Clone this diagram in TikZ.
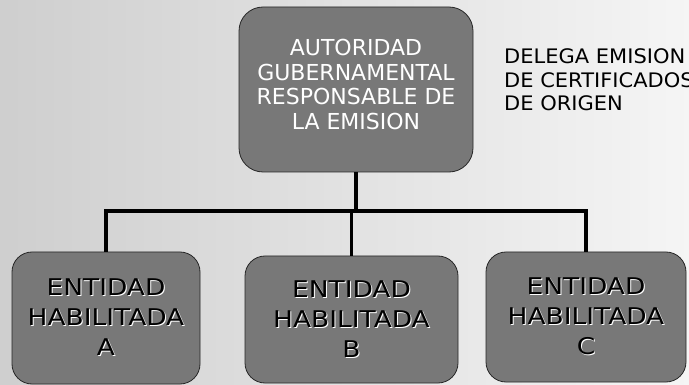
\documentclass[tikz,border=0pt]{standalone}
\usepackage{fontspec}
\setmainfont{DejaVu Sans}
\newfontfamily\anchafont[FakeStretch=1.15]{DejaVu Sans}
\newfontfamily\mediafont[FakeStretch=1.05]{DejaVu Sans}
\begin{document}
\begin{tikzpicture}[x=1pt,y=-1pt,
	caja/.style={draw=black!85,line width=0.8pt,fill=black!53,rounded corners=20pt,inner sep=0pt},
	textoent/.style={align=center,font=\anchafont\fontsize{23}{30}\selectfont},
	conector/.style={line width=3.2pt,black}]
	\def\sombra#1{\makebox[0pt][l]{\hspace{1pt}\raisebox{-1pt}{\color{white}#1}}#1} % texto con sombra blanca
	\useasboundingbox (0,0) rectangle (689,385);
	\clip (0,0) rectangle (689,385);
	\shade[left color=black!19,right color=black!4] (0,0) rectangle (689,385);
	% caja superior
	\node[caja,rounded corners=24pt,minimum width=234pt,minimum height=165pt,text depth=10pt,align=center,text=white,font=\fontsize{22}{24.5}\selectfont] (autoridad) at (356,89.5) {AUTORIDAD\\GUBERNAMENTAL\\RESPONSABLE DE\\LA EMISION};
	\node[anchor=north west,align=left,inner sep=0pt,font=\mediafont\fontsize{20}{23.5}\selectfont] (delega) at (504,48.7) {DELEGA EMISION\\DE CERTIFICADOS\\DE ORIGEN};
	% entidades
	\foreach \letra/\cx/\cy/\ancho/\alto in {A/106/318/188/132,B/351.5/319.5/213/127,C/586/317/200/130}
		\node[caja,textoent,minimum width=\ancho pt,minimum height=\alto pt] (ent\letra) at (\cx,\cy) {\sombra{ENTIDAD}\\\sombra{HABILITADA}\\\sombra{\letra}};
	\coordinate (junta) at (356,211);
	\draw[conector] (autoridad.south) -- (junta);
	\draw[conector] (entA.north) -- (entA.north |- junta) -- (entC.north |- junta) -- (entC.north);
	\draw[conector] (entB.north) -- (entB.north |- junta);
\end{tikzpicture}
\end{document}
